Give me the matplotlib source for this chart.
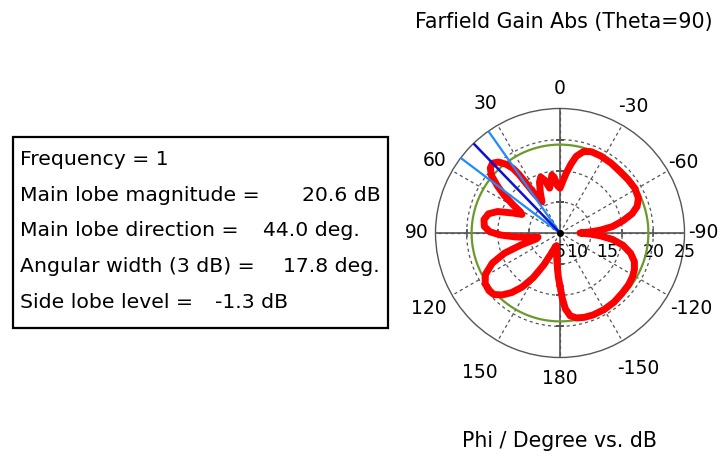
import numpy as np
import matplotlib
matplotlib.use('Agg')
import matplotlib.pyplot as plt
from matplotlib.patches import Rectangle

# Farfield cut, phi in degrees (counter-clockwise from top) and gain in dB
phi_deg = [-180, -178, -176, -173, -169, -164, -158, -150, -142, -134, -127, -121,
           -116, -111, -106, -101, -97, -94, -92, -90, -88, -86, -83, -79, -75, -71,
           -66, -59, -52, -44, -36, -28, -21, -16, -12, -9, -6, -3, 0, 3, 6, 8, 10,
           13, 16, 19, 22, 26, 30, 33, 35, 36, 38, 41, 44, 47, 50, 53, 56, 59, 62,
           64, 67, 71, 75, 80, 85, 89, 92, 95, 98, 101, 104, 107, 110, 114, 119,
           124, 129, 133, 137, 141, 145, 149, 153, 157, 161, 165, 169, 173, 176,
           178, 180]
gain_db = [13.5, 15.5, 17.2, 18.4, 18.9, 19.1, 19.2, 19.2, 19.1, 18.9, 18.8, 18.6,
           18.3, 17.8, 16.8, 15.3, 13.5, 11.5, 9.8, 8.2, 9.8, 11.5, 13.5, 15.3, 17.0,
           18.1, 18.8, 19.0, 18.9, 18.8, 18.9, 19.0, 19.0, 18.6, 17.6, 16.2, 14.7,
           13.3, 12.2, 12.6, 14.0, 14.4, 13.4, 12.4, 13.8, 14.5, 13.8, 12.2, 10.8,
           12.5, 16.5, 17.8, 19.0, 20.1, 20.6, 20.3, 19.4, 17.6, 15.8, 13.8, 12.2,
           11.8, 13.2, 15.6, 16.9, 17.4, 17.2, 16.3, 14.5, 12.2, 10.0, 8.6, 8.9,
           11.5, 14.5, 16.9, 18.7, 19.5, 19.7, 19.5, 18.6, 17.3, 15.6, 13.4, 10.8,
           8.6, 7.4, 7.1, 7.8, 9.2, 10.8, 12.2, 13.5]

main_lobe_dir = 44.0
beam_edges = [35.1, 52.9]
green_level = 19.2

angle_ticks = [0, 30, 60, 90, 120, 150, 180, 210, 240, 270, 300, 330]
angle_labels = ['0', '30', '60', '90', '120', '150', '180',
                '-150', '-120', '-90', '-60', '-30']
r_ticks = [5, 10, 15, 20, 25]
r_labels = ['5', '10', '15', '20', '25']

info_labels = ['Frequency = 1', 'Main lobe magnitude =', 'Main lobe direction =',
               'Angular width (3 dB) =', 'Side lobe level =']
info_values = ['', '20.6 dB', '44.0 deg.', '17.8 deg.', '-1.3 dB']

W, H = 722, 458


def main():
    fig = plt.figure(figsize=(W / 100, H / 100), dpi=100)
    plt.rcParams['font.family'] = 'DejaVu Sans'

    cx, cy, R = 560, 233, 124.5
    ax = fig.add_axes([(cx - R) / W, (H - cy - R) / H, 2 * R / W, 2 * R / H],
                      projection='polar')
    ax.set_theta_zero_location('N')
    ax.set_theta_direction(1)
    ax.set_rlim(5, 25)

    # grid: dotted rings and spokes, solid main axes
    ax.set_thetagrids(angle_ticks, [''] * len(angle_ticks))
    ax.set_rgrids([10, 15, 20], labels=[])
    ax.grid(True, color='#555555', linestyle=(0, (2.5, 2.5)), linewidth=0.9)
    ax.spines['polar'].set_color('#555555')
    ax.spines['polar'].set_linewidth(1.0)
    for a in [0, 90, 180, 270]:
        ax.plot([np.deg2rad(a)] * 2, [5, 25], color='#555555', lw=1.2, zorder=2)
    for r in [10, 15, 20]:
        ax.plot([np.deg2rad(90), np.deg2rad(270)], [r, r], ls='none',
                marker='|', ms=6, mew=1.2, color='#555555', zorder=2)
        ax.plot([0, np.pi], [r, r], ls='none', marker='_', ms=6, mew=1.2,
                color='#555555', zorder=2)

    # angle labels, each at its own distance (px) from the centre
    label_dist = [145, 149, 145, 143, 152, 161, 145, 157, 152, 143, 142, 146]
    for a, lab, d in zip(angle_ticks, angle_labels, label_dist):
        x = cx - d * np.sin(np.deg2rad(a))
        y = cy - d * np.cos(np.deg2rad(a))
        fig.text(x / W, 1 - y / H, lab, ha='center', va='center', fontsize=13.5)

    rpos = [5, 7.7, 12.6, 20, 25]
    for r, lab in zip(rpos, r_labels):
        ax.annotate(lab, xy=(np.deg2rad(270), r), xytext=(0, -19),
                    textcoords='offset pixels', ha='center', va='center',
                    fontsize=12.5, annotation_clip=False)

    circ = np.linspace(0, 2 * np.pi, 361)
    ax.plot(circ, np.full_like(circ, green_level), color='#6b9a2a', lw=1.6, zorder=3)

    ax.plot(np.deg2rad(phi_deg), gain_db, color='#ff0000', lw=5,
            solid_joinstyle='round', solid_capstyle='round', zorder=4)

    for b in beam_edges:
        ax.plot([np.deg2rad(b)] * 2, [5, 25], color='#1e8cff', lw=1.6, zorder=5)
    ax.plot([np.deg2rad(main_lobe_dir)] * 2, [5, 25], color='#1010d0', lw=1.8, zorder=5)
    ax.plot([0], [5], 'o', color='black', ms=4, zorder=6)

    fig.text(564 / W, 1 - 22 / H, 'Farfield Gain Abs (Theta=90)', ha='center',
             va='center', fontsize=14.8)
    fig.text(560 / W, 1 - 441 / H, 'Phi / Degree vs. dB', ha='center',
             va='center', fontsize=14.8)

    # info box on the left
    fig.add_artist(Rectangle((13 / W, 1 - 328 / H), 375 / W, 191 / H,
                             transform=fig.transFigure, fill=False,
                             ec='black', lw=1.6))
    value_x = [0, 302, 263, 283, 215]
    for i, (lab, val) in enumerate(zip(info_labels, info_values)):
        y = 1 - (160 + i * 35.5) / H
        fig.text(20 / W, y, lab, ha='left', va='center', fontsize=14.7)
        if val:
            fig.text(value_x[i] / W, y, val, ha='left', va='center', fontsize=14.7)

    fig.savefig('out.png', dpi=100)


if __name__ == "__main__":
    main()
